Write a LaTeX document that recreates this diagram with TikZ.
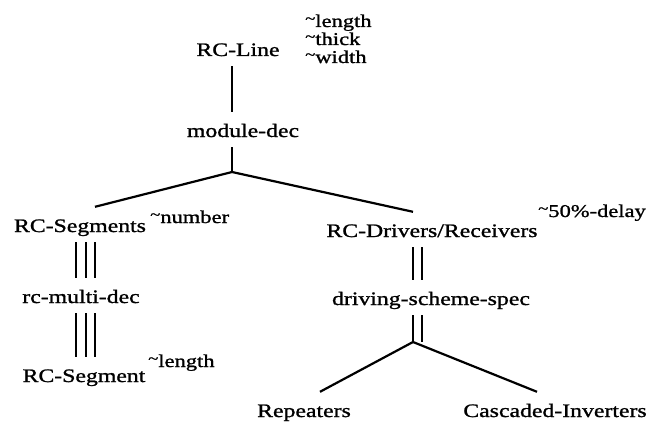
\documentclass[tikz,border=0pt]{standalone}
\usepackage{fontspec}
\setmainfont{Liberation Serif}[FakeStretch=1.25, FakeBold=1.2]
\usetikzlibrary{calc}
\newcommand\tld{{\fontsize{15}{15}\selectfont\raisebox{3.5pt}{\textasciitilde}}}
\begin{document}
\begin{tikzpicture}[x=1pt,y=-1pt,
  lbl/.style={inner xsep=0pt, inner ysep=6pt, text height=19pt, text depth=4pt, anchor=base, font=\fontsize{19}{18}\selectfont},
  attr/.style={inner sep=0pt, anchor=base west, font=\fontsize{18}{18}\selectfont},
  conn/.style={line width=2.2pt}]
\useasboundingbox (0,0) rectangle (650,425);
% nodes
\node[lbl] (line) at (238,56) {RC-Line};
\node[attr] (a1) at (305,27) {\tld length};
\node[attr] (a2) at (305,45) {\tld thick};
\node[attr] (a3) at (305,63) {\tld width};
\node[lbl] (module) at (243,137) {module-dec};
\coordinate (j1) at (232,172);
\node[lbl] (segs) at (80,232) {RC-Segments};
\node[attr] (nnum) at (150,223) {\tld number};
\node[lbl] (multi) at (81,303) {rc-multi-dec};
\node[lbl] (seg) at (84,382) {RC-Segment};
\node[attr] (slen) at (148,367) {\tld length};
\node[lbl] (drv) at (432,237) {RC-Drivers/Receivers};
\node[attr] (dly) at (538,217) {\tld 50\%-delay};
\node[lbl] (scheme) at (431,305) {driving-scheme-spec};
\coordinate (j2) at (413,342);
\node[lbl] (rep) at (304,417) {Repeaters};
\node[lbl] (casc) at (555,417) {Cascaded-Inverters};
\coordinate (tx) at (86,0);
% connectors
\draw[conn] (line.south -| j1) -- (module.north -| j1);
\draw[conn] (module.south -| j1) -- (j1);
\draw[conn] (j1) -- ($(segs.north)+(15,0)$);
\draw[conn] (j1) -- ($(drv.north)+(-19,0)$);
\foreach \d in {-10,0,9}{
  \draw[conn] ($(segs.south -| tx)+(\d,0)$) -- ($(multi.north -| tx)+(\d,0)$);
  \draw[conn] ($(multi.south -| tx)+(\d,0)$) -- ($(seg.north -| tx)+(\d,0)$);
}
\foreach \d in {0,9}{
  \draw[conn] ($(drv.south -| j2)+(\d,0)$) -- ($(scheme.north -| j2)+(\d,0)$);
  \draw[conn] ($(scheme.south -| j2)+(\d,0)$) -- ($(j2)+(\d,0)$);
}
\draw[conn] (j2) -- ($(rep.north)+(16,0)$);
\draw[conn] (j2) -- ($(casc.north)+(-18,0)$);
\end{tikzpicture}
\end{document}
